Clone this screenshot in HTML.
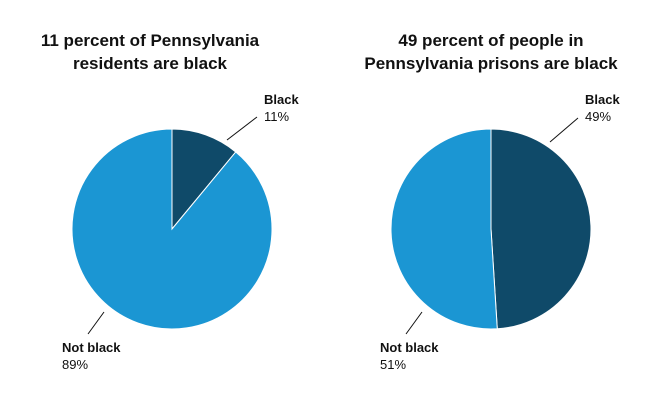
<!DOCTYPE html>
<html><head><meta charset="utf-8"><style>
body{margin:0;background:#fff;font-family:"Liberation Sans",sans-serif}
svg text{font-family:"Liberation Sans",sans-serif}
</style></head><body>
<svg id="c" width="672" height="400">
<text x="150" y="46" text-anchor="middle" font-size="17" font-weight="bold" fill="#111">11 percent of Pennsylvania</text>
<text x="150" y="69" text-anchor="middle" font-size="17" font-weight="bold" fill="#111">residents are black</text>
<text x="491" y="46" text-anchor="middle" font-size="17" font-weight="bold" fill="#111">49 percent of people in</text>
<text x="491" y="69" text-anchor="middle" font-size="17" font-weight="bold" fill="#111">Pennsylvania prisons are black</text>
</svg>
<script>
const categories=["Black","Not black"];
const residentsValues=[11,89];
const prisonValues=[49,51];
const colors=["#0f4a69","#1b96d3"];
const svg=document.getElementById('c');
const NS="http://www.w3.org/2000/svg";
function pie(cx,cy,r,vals,prefix){
  const tot=vals.reduce((a,b)=>a+b,0);let a0=0;
  vals.forEach((v,i)=>{
    const a1=a0+v/tot*2*Math.PI;
    const x0=cx+r*Math.sin(a0),y0=cy-r*Math.cos(a0),x1=cx+r*Math.sin(a1),y1=cy-r*Math.cos(a1);
    const p=document.createElementNS(NS,'path');
    p.setAttribute('d',`M${cx},${cy}L${x0},${y0}A${r},${r} 0 ${a1-a0>Math.PI?1:0} 1 ${x1},${y1}Z`);
    p.setAttribute('fill',colors[i]);p.setAttribute('stroke','#fff');p.setAttribute('stroke-width','1');
    
    
    svg.appendChild(p);a0=a1;
  });
}
function label(x,y,name,val,lx1,ly1,lx2,ly2,nm){
  const l=document.createElementNS(NS,'line');
  l.setAttribute('x1',lx1);l.setAttribute('y1',ly1);l.setAttribute('x2',lx2);l.setAttribute('y2',ly2);
  l.setAttribute('stroke','#111');l.setAttribute('stroke-width','1');
  
  
  svg.appendChild(l);
  const t=document.createElementNS(NS,'text');
  t.setAttribute('x',x);t.setAttribute('y',y);t.setAttribute('font-size','13');t.setAttribute('fill','#111');
  t.innerHTML=`<tspan font-weight="bold">${name}</tspan><tspan x="${x}" dy="17">${val}%</tspan>`;
  
  
  svg.appendChild(t);
}
pie(172,229,100,residentsValues,'residents');
pie(491,229,100,prisonValues,'prison');
label(264,104,categories[0],residentsValues[0],227,140,257,117,'residents-black');
label(62,352,categories[1],residentsValues[1],88,334,104,312,'residents-not-black');
label(585,104,categories[0],prisonValues[0],550,142,578,118,'prison-black');
label(380,352,categories[1],prisonValues[1],406,334,422,312,'prison-not-black');
</script>
</body></html>
